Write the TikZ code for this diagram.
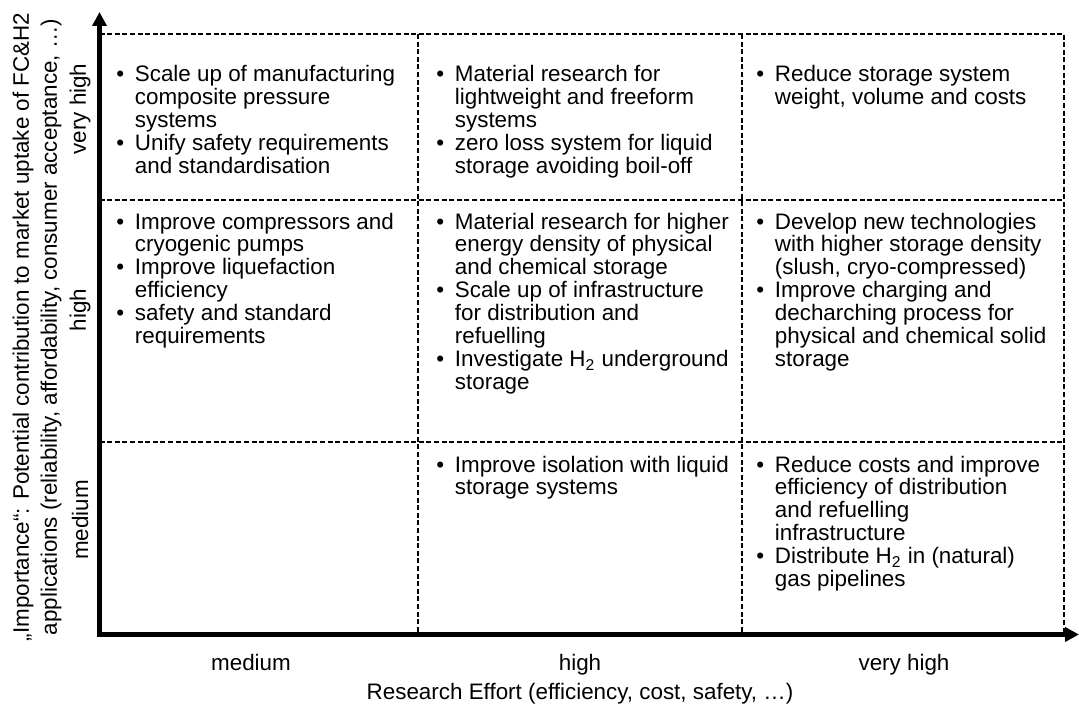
\documentclass[tikz,border=0pt]{standalone}
\usepackage{fontspec}
\setmainfont{Liberation Sans}
\usetikzlibrary{arrows.meta,positioning}

\newcommand\cellfont{\fontsize{11.2}{11.25}\selectfont}
\newcommand\blt{\makebox[9.25pt][l]{•}}
\newcommand\ind{\hspace*{9.25pt}}
\newcommand\celllines[1]{\begin{tabular}[t]{@{}l@{}}#1\end{tabular}}

\tikzset{
  gridline/.style={line width=0.8pt, dash pattern=on 2.5pt off 1.3pt},
  axisline/.style={line width=2.25pt, {Triangle[length=7pt,width=7pt]}-{Triangle[length=7pt,width=7pt]}},
  celltext/.style={anchor=base west, inner sep=0pt, font=\cellfont},
  levellabel/.style={inner sep=0pt, font=\cellfont},
}

\begin{document}
\begin{tikzpicture}[x=0.5pt, y=-0.5pt]
\useasboundingbox (0,0) rectangle (1079,706);

% Axis end points
\coordinate (origin) at (99.5,634.5);
\coordinate (ytip) at (99.5,12);
\coordinate (xtip) at (1079,634.5);

% Dashed grid
\draw[gridline] (99.5,34) -- (1064,34) -- (1064,634.5);
\foreach \yy in {200,442} {
    \draw[gridline] (99.5,\yy) -- (1064,\yy);
}
\foreach \xx in {418,742} {
    \draw[gridline] (\xx,34) -- (\xx,634.5);
}

% Axes
\draw[axisline] (ytip) -- (origin) -- (xtip);

% Importance: very high
\node[celltext] (vh-med) at (116,82) {\celllines{\blt Scale up of manufacturing\\ \ind composite pressure\\ \ind systems\\ \blt Unify safety requirements\\ \ind and standardisation}};
\node[celltext] (vh-high) at (436,82) {\celllines{\blt Material research for\\ \ind lightweight and freeform\\ \ind systems\\ \blt zero loss system for liquid\\ \ind storage avoiding boil-off}};
\node[celltext] (vh-vh) at (756,82) {\celllines{\blt Reduce storage system\\ \ind weight, volume and costs}};

% Importance: high
\node[celltext] (h-med) at (116,229) {\celllines{\blt Improve compressors and\\ \ind cryogenic pumps\\ \blt Improve liquefaction\\ \ind efficiency\\ \blt safety and standard\\ \ind requirements}};
\node[celltext] (h-high) at (436,229) {\celllines{\blt Material research for higher\\ \ind energy density of physical\\ \ind and chemical storage\\ \blt Scale up of infrastructure\\ \ind for distribution and\\ \ind refuelling\\ \blt Investigate H\textsubscript{2} underground\\ \ind storage}};
\node[celltext] (h-vh) at (756,229) {\celllines{\blt Develop new technologies\\ \ind with higher storage density\\ \ind (slush, cryo-compressed)\\ \blt Improve charging and\\ \ind decharching process for\\ \ind physical and chemical solid\\ \ind storage}};

% Importance: medium
\node[celltext] (m-high) at (436,472) {\celllines{\blt Improve isolation with liquid\\ \ind storage systems}};
\node[celltext] (m-vh) at (756,472) {\celllines{\blt Reduce costs and improve\\ \ind efficiency of distribution\\ \ind and refuelling\\ \ind infrastructure\\ \blt Distribute H\textsubscript{2} in (natural)\\ \ind gas pipelines}};

% Effort labels
\node[levellabel, anchor=base] (x-med) at (251,670) {medium};
\node[levellabel, anchor=base] (x-high) at (580,670) {high};
\node[levellabel, anchor=base] (x-vh) at (904,670) {very high};
\node[levellabel, anchor=base] (x-title) at (580,699) {Research Effort (efficiency, cost, safety, …)};

% Importance labels
\node[levellabel, rotate=90] (y-vh) at (80,109) {very high};
\node[levellabel, rotate=90] (y-high) at (80,310) {high};
\node[levellabel, rotate=90] (y-med) at (80,520) {medium};
\node[levellabel, rotate=90, align=center, font=\fontsize{11.2}{14}\selectfont] (y-title) at (37,327) {„Importance“: Potential contribution to market uptake of FC\&H2\\ applications (reliability, affordability, consumer acceptance, …)};

\end{tikzpicture}
\end{document}
